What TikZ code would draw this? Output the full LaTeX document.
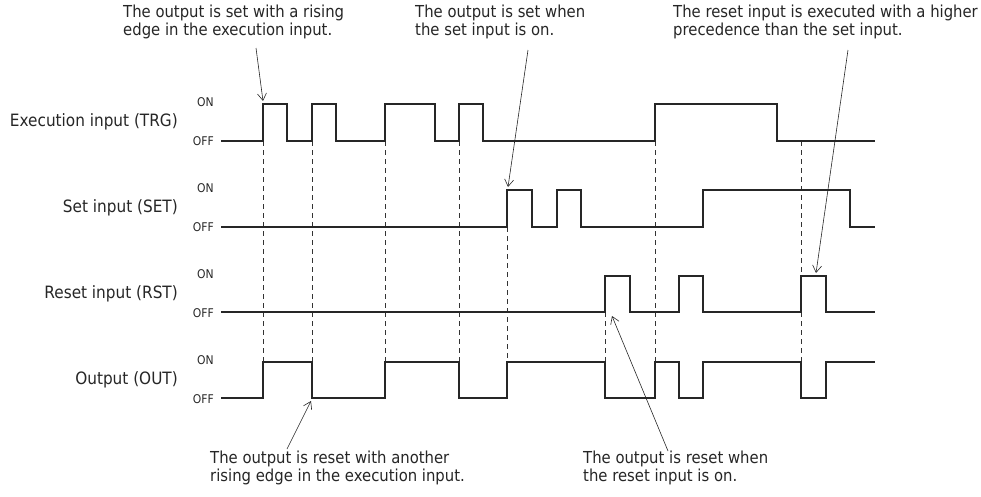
\documentclass[tikz,border=0pt]{standalone}
\usepackage{fontspec}
\setmainfont{DejaVu Sans Condensed}
\usetikzlibrary{arrows.meta,calc,positioning}

\begin{document}
\begin{tikzpicture}[x=1pt,y=-1pt,>={Straight Barb[length=7pt,width=9pt]},
  sig/.style={line width=1.6pt,black!85,line join=miter},
  guide/.style={line width=0.7pt,black!80,dash pattern=on 5pt off 4pt},
  note/.style={anchor=north west,align=left,inner sep=0pt,font=\fontsize{16.5}{18}\selectfont,text=black!85},
  rowlabel/.style={anchor=east,inner sep=0pt,font=\fontsize{17}{19}\selectfont,text=black!85},
  level/.style={anchor=east,inner sep=0pt,font=\fontsize{12}{13}\selectfont,text=black!85},
  pointer/.style={line width=0.6pt,black!85,->}]
\useasboundingbox (0,0) rectangle (981,496);

% row labels
\node[rowlabel] (trg) at (178,122) {Execution input (TRG)};
\node[rowlabel] (set) at (178,208) {Set input (SET)};
\node[rowlabel] (rst) at (178,294) {Reset input (RST)};
\node[rowlabel] (out) at (178,380) {Output (OUT)};
\foreach \y/\n in {104/trg,190/set,276/rst,362/out}{
  \node[level] (\n on) at (214,\y-2) {ON};
  \node[level] (\n off) at (214,\y+37) {OFF};
}

% guide lines
\foreach \x in {263,312,385,459,655,801}
  \draw[guide] (\x,141) -- (\x,362);
\draw[guide] (507,227) -- (507,362);
\draw[guide] (605,312) -- (605,362);

% signals
\draw[sig] (221,141) -| (263,104) -| (287,141) -| (312,104) -| (336,141) -| (385,104)
  -| (435,141) -| (459,104) -| (483,141) -| (655,104) -| (777,141) -- (875,141);
\draw[sig] (221,227) -| (507,190) -| (532,227) -| (557,190) -| (581,227) -| (703,190)
  -| (850,227) -- (875,227);
\draw[sig] (221,312) -| (605,276) -| (630,312) -| (679,276) -| (703,312) -| (801,276)
  -| (826,312) -- (875,312);
\draw[sig] (221,398) -| (263,362) -| (312,398) -| (385,362) -| (459,398) -| (507,362)
  -| (605,398) -| (655,362) -| (679,398) -| (703,362) -| (801,398) -| (826,362) -- (875,362);

% notes
\node[note] (n1) at (123,5) {The output is set with a rising\\edge in the execution input.};
\node[note] (n2) at (415,5) {The output is set when\\the set input is on.};
\node[note] (n3) at (673,5) {The reset input is executed with a higher\\precedence than the set input.};
\node[note] (n4) at (210,451) {The output is reset with another\\rising edge in the execution input.};
\node[note] (n5) at (583,451) {The output is reset when\\the reset input is on.};

\coordinate (p1) at (256,48);   \coordinate (t1) at (263,101);
\coordinate (p2) at (528,50);   \coordinate (t2) at (508,187);
\coordinate (p3) at (848,50);   \coordinate (t3) at (816,273);
\coordinate (p4) at (287,449);  \coordinate (t4) at (311,401);
\coordinate (p5) at (668,451);  \coordinate (t5) at (612,316);
\foreach \i in {1,...,5}
  \draw[pointer] (p\i) -- (t\i);
\end{tikzpicture}
\end{document}
